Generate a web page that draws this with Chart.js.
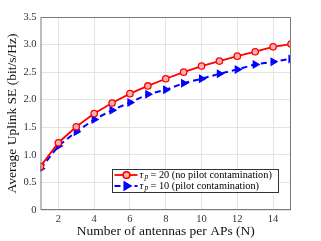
<!DOCTYPE html>
<html>
<head>
<meta charset="utf-8">
<script src="https://cdn.jsdelivr.net/npm/chart.js@4"></script>
<style>
  html, body { margin: 0; padding: 0; background: #fff; }
  #wrap { width: 321px; height: 241px; }
</style>
</head>
<body>
<div id="wrap"><canvas id="myChart"></canvas></div>
<script>
const ctx = document.getElementById('myChart');

// Data
const antennas = [1, 2, 3, 4, 5, 6, 7, 8, 9, 10, 11, 12, 13, 14, 15];
const seNoContamination = [0.79, 1.22, 1.51, 1.75, 1.94, 2.11, 2.25, 2.38, 2.50, 2.61, 2.70, 2.79, 2.87, 2.96, 3.01];
const seContamination = [0.75, 1.16, 1.42, 1.64, 1.81, 1.95, 2.10, 2.18, 2.30, 2.38, 2.47, 2.55, 2.64, 2.69, 2.74];
const xTicks = [2, 4, 6, 8, 10, 12, 14];
const seriesNames = ['= 20 (no pilot contamination)', '= 10 (pilot contamination)'];

const serif = "'Liberation Serif', 'DejaVu Serif', serif";

// draws the box around the axes and the legend inside the plot
const boxAndLegend = {
  id: 'boxAndLegend',
  afterDatasetsDraw(chart) {
    const c = chart.ctx;
    const a = chart.chartArea;
    c.save();
    c.strokeStyle = '#7a7a7a';
    c.lineWidth = 1;
    c.strokeRect(a.left + 0.5, a.top + 0.5, a.right - a.left - 1, a.bottom - a.top - 1);

    // legend
    const bx = 112.5, by = 169.5, bw = 166, bh = 23;
    c.fillStyle = '#fff';
    c.fillRect(bx, by, bw, bh);
    c.strokeStyle = '#333';
    c.strokeRect(bx, by, bw, bh);
    chart.data.datasets.forEach((ds, i) => {
      const y = by + 5.5 + i * 11;
      c.strokeStyle = ds.borderColor;
      c.lineWidth = ds.borderWidth;
      c.setLineDash(ds.borderDash || []);
      c.beginPath();
      c.moveTo(bx + 2, y);
      c.lineTo(bx + 25, y);
      c.stroke();
      c.setLineDash([]);
      Chart.helpers.drawPoint(c, {
        pointStyle: ds.pointStyle,
        rotation: ds.rotation || 0,
        radius: ds.pointRadius,
        borderWidth: ds.pointBorderWidth
      }, bx + 14, y);
      c.fillStyle = ds.pointBackgroundColor;
      c.strokeStyle = ds.borderColor;
      c.lineWidth = ds.pointBorderWidth;
      c.fill();
      c.stroke();
      c.fillStyle = '#000';
      c.textBaseline = 'middle';
      c.font = 'italic 10.5px ' + serif;
      c.fillText('τ', bx + 27, y);
      c.font = 'italic 7.5px ' + serif;
      c.fillText('p', bx + 32, y + 2);
      c.font = '10.3px ' + serif;
      c.fillText(seriesNames[i], bx + 38, y);
    });
    c.restore();
  }
};

new Chart(ctx, {
  type: 'line',
  data: {
    labels: antennas,
    datasets: [{
      label: 'τp = 20 (no pilot contamination)',
      data: antennas.map((n, i) => ({ x: n, y: seNoContamination[i] })),
      borderColor: '#ff0000',
      backgroundColor: '#ff0000',
      borderWidth: 1.8,
      pointStyle: 'circle',
      pointRadius: 3.2,
      pointBorderWidth: 1.3,
      pointBackgroundColor: '#ffb0b0',
      pointBorderColor: '#ff0000'
    }, {
      label: 'τp = 10 (pilot contamination)',
      data: antennas.map((n, i) => ({ x: n, y: seContamination[i] })),
      borderColor: '#0000ff',
      backgroundColor: '#0000ff',
      borderWidth: 2,
      borderDash: [6, 4],
      pointStyle: 'triangle',
      rotation: 90,
      pointRotation: 90,
      pointRadius: 4,
      pointBorderWidth: 1.2,
      pointBackgroundColor: '#0000ff',
      pointBorderColor: '#0000ff'
    }]
  },
  options: {
    responsive: true,
    maintainAspectRatio: false,
    animation: false,
    layout: { padding: { left: 4, right: 30, top: 17, bottom: 0 } },
    plugins: {
      legend: { display: false },
      tooltip: { enabled: false }
    },
    scales: {
      x: {
        type: 'linear',
        min: 1,
        max: 15,
        afterBuildTicks: scale => { scale.ticks = xTicks.map(v => ({ value: v })); },
        afterFit: scale => { scale.height = 31; },
        grid: { color: '#e4e4e4', drawTicks: false },
        border: { display: false },
        ticks: { color: '#333', font: { family: serif, size: 10.5 }, padding: 3, maxRotation: 0 },
        title: {
          display: true,
          text: 'Number of antennas per APs (N)',
          color: '#111',
          font: { family: serif, size: 13.5 },
          padding: { top: 0, bottom: 1 }
        }
      },
      y: {
        min: 0,
        max: 3.5,
        afterFit: scale => { scale.width = 36.5; },
        grid: { color: '#e4e4e4', drawTicks: false },
        border: { display: false },
        ticks: { stepSize: 0.5, color: '#333', font: { family: serif, size: 10.5 }, padding: 4 },
        title: {
          display: true,
          text: 'Average Uplink SE (bit/s/Hz)',
          color: '#111',
          font: { family: serif, size: 13.5 },
          padding: { top: 0, bottom: 2 }
        }
      }
    }
  },
  plugins: [boxAndLegend]
});
</script>
</body>
</html>
